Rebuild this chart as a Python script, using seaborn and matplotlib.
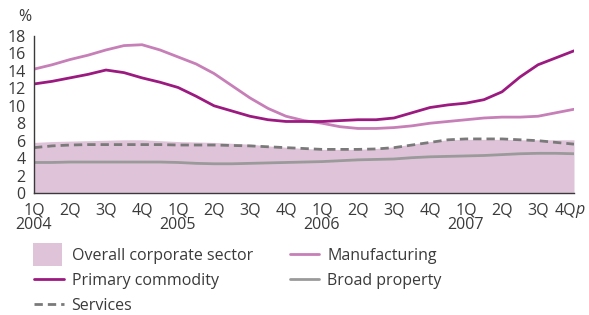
import numpy as np
import matplotlib
matplotlib.use("Agg")
import matplotlib.pyplot as plt
import matplotlib.transforms as mtransforms
import seaborn as sns
from matplotlib.patches import Patch, Rectangle
from matplotlib.lines import Line2D
from matplotlib.legend_handler import HandlerPatch

# half-quarter steps from 1Q 2004 to 4Q 2007
steps = np.arange(31) / 2

overall = [5.8, 5.9, 5.95, 6.0, 6.05, 6.1, 6.1, 6.0, 5.9, 5.85, 5.8, 5.7, 5.6, 5.4, 5.25, 5.1,
           5.0, 5.0, 5.0, 5.1, 5.3, 5.6, 5.9, 6.1, 6.15, 6.15, 6.15, 6.1, 6.1, 6.1, 6.1]
primary = [12.5, 12.8, 13.2, 13.6, 14.1, 13.8, 13.2, 12.7, 12.1, 11.1, 10.0, 9.4, 8.8, 8.4, 8.2, 8.2,
           8.2, 8.3, 8.4, 8.4, 8.6, 9.2, 9.8, 10.1, 10.3, 10.7, 11.6, 13.3, 14.7, 15.5, 16.3]
manufacturing = [14.2, 14.7, 15.3, 15.8, 16.4, 16.9, 17.0, 16.4, 15.6, 14.8, 13.7, 12.3, 10.9, 9.7, 8.8, 8.3,
                 8.0, 7.6, 7.4, 7.4, 7.5, 7.7, 8.0, 8.2, 8.4, 8.6, 8.7, 8.7, 8.8, 9.2, 9.6]
services = [5.2, 5.4, 5.5, 5.55, 5.55, 5.55, 5.55, 5.55, 5.5, 5.5, 5.5, 5.45, 5.4, 5.3, 5.2, 5.1,
            5.0, 5.0, 5.0, 5.05, 5.2, 5.5, 5.8, 6.1, 6.2, 6.2, 6.2, 6.1, 6.0, 5.8, 5.6]
broad_property = [3.5, 3.5, 3.55, 3.55, 3.55, 3.55, 3.55, 3.55, 3.5, 3.4, 3.35, 3.35, 3.4, 3.45, 3.5, 3.55,
                  3.6, 3.7, 3.8, 3.85, 3.9, 4.05, 4.15, 4.2, 4.25, 4.3, 4.4, 4.5, 4.55, 4.55, 4.5]

quarter_labels = ["1Q\n2004", "2Q", "3Q", "4Q", "1Q\n2005", "2Q", "3Q", "4Q",
                  "1Q\n2006", "2Q", "3Q", "4Q", "1Q\n2007", "2Q", "3Q", "4Q"]

FILL = "#dfc4d9"
PRIMARY = "#9c1a80"
MANUF = "#c77fb8"
SERV = "#7a7a7a"
BROAD = "#9a9a9a"
TEXT = "#3a3a3a"
FS = 11.5
TICK_LEN = 3
XPAD = 3.5

sns.set_theme(style="white")
plt.rcParams["font.family"] = ["Open Sans", "DejaVu Sans"]
plt.rcParams["text.color"] = TEXT

fig = plt.figure(figsize=(5.89, 3.15), dpi=100)
ax = fig.add_axes([34 / 589, 1 - 193 / 315, 540 / 589, 157 / 315])

ax.fill_between(steps, 0, overall, color=FILL, lw=0)
sns.lineplot(x=steps, y=services, ax=ax, color=SERV, lw=2.0, linestyle=(0, (3, 1.8)))
sns.lineplot(x=steps, y=broad_property, ax=ax, color=BROAD, lw=2.0)
sns.lineplot(x=steps, y=manufacturing, ax=ax, color=MANUF, lw=2.0)
sns.lineplot(x=steps, y=primary, ax=ax, color=PRIMARY, lw=2.0)

ax.set_xlim(0, 15)
ax.set_ylim(0, 18)
ax.set_yticks(range(0, 19, 2))
ax.set_xticks(range(16))
ax.set_xticklabels(quarter_labels, linespacing=0.95)
ax.tick_params(axis="both", labelsize=FS, colors=TEXT, length=TICK_LEN, width=1, direction="out")
ax.tick_params(axis="y", pad=3)
ax.tick_params(axis="x", pad=XPAD)
for s in ["top", "right"]:
    ax.spines[s].set_visible(False)
for s in ["left", "bottom"]:
    ax.spines[s].set_color(TEXT)
    ax.spines[s].set_linewidth(1)
ax.set_xlabel("")
ax.set_ylabel("")

# last label "4Qp" sits a little left so the italic p fits
last = ax.get_xticklabels()[-1]
last.set_transform(last.get_transform() + mtransforms.ScaledTranslation(-6.5 / 72, 0, fig.dpi_scale_trans))
ax.annotate("p", xy=(15, 0), xycoords=("data", "axes fraction"),
            xytext=(1.0, -(TICK_LEN + XPAD)), textcoords="offset points",
            ha="left", va="top", fontsize=FS, style="italic", color=TEXT)

fig.text(25 / 589, 1 - 17 / 315, "%", fontsize=FS, ha="center", va="center")


class TallPatch(HandlerPatch):
    def create_artists(self, legend, orig_handle, xdescent, ydescent, width, height, fontsize, trans):
        r = Rectangle((-xdescent - 1, -ydescent - height * 0.55), width, height * 2.1,
                      facecolor=FILL, edgecolor="none", transform=trans)
        return [r]


handles = [
    Patch(facecolor=FILL, edgecolor="none"),
    Line2D([], [], color=PRIMARY, lw=2),
    Line2D([], [], color=SERV, lw=2, linestyle=(0, (3, 1.8))),
    Line2D([], [], color=MANUF, lw=2),
    Line2D([], [], color=BROAD, lw=2),
]
labels = ["Overall corporate sector", "Primary commodity", "Services", "Manufacturing", "Broad property"]
fig.legend(handles, labels, loc="upper left", bbox_to_anchor=(34 / 589, 1 - 248 / 315),
           ncol=2, frameon=False, fontsize=FS, handlelength=1.85, handletextpad=0.5,
           columnspacing=2.3, labelspacing=0.55, borderpad=0, borderaxespad=0,
           handler_map={Patch: TallPatch()})

fig.savefig("out.png", dpi=100)
